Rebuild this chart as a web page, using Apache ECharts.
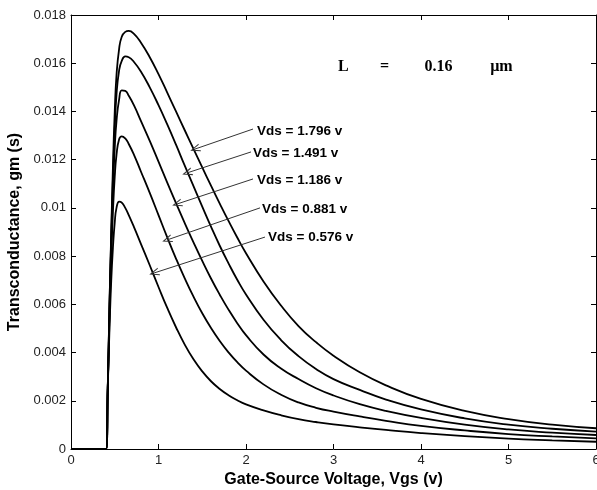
<!DOCTYPE html>
<html><head><meta charset="utf-8">
<script src="https://cdn.jsdelivr.net/npm/echarts@6/dist/echarts.min.js"></script>
<style>html,body{margin:0;padding:0;background:#fff;overflow:hidden;width:100%;height:100%}#c{width:100vw;height:100vh}</style>
</head><body><div id="c"></div>
<script>
// Gate-source voltage grid (V)
var vgs = [0, 0.40, 0.42, 0.44, 0.46, 0.48, 0.50, 0.52, 0.55, 0.58, 0.62, 0.66, 0.72, 0.80, 0.90, 1.0, 1.1, 1.2, 1.3, 1.4, 1.5, 1.6, 1.7, 1.8, 1.9, 2.0, 2.2, 2.4, 2.6, 2.8, 3.0, 3.3, 3.6, 4.0, 4.5, 5.0, 5.5, 6.0];
// Transconductance gm (S) per Vds
var gm1796 = [0, 0, 0.0025, 0.0060, 0.0090, 0.0118, 0.0140, 0.0155, 0.0166, 0.0171, 0.01730, 0.01734, 0.01722, 0.01685, 0.01625, 0.01555, 0.01478, 0.01400, 0.01322, 0.01245, 0.01168, 0.01092, 0.01018, 0.00946, 0.00877, 0.00812, 0.00695, 0.00595, 0.00510, 0.00443, 0.00387, 0.00318, 0.00264, 0.00208, 0.00158, 0.00124, 0.00101, 0.00086];
var gm1491 = [0, 0, 0.0025, 0.0060, 0.0088, 0.0113, 0.0133, 0.0147, 0.0157, 0.0161, 0.01628, 0.01625, 0.01605, 0.01565, 0.01500, 0.01426, 0.01346, 0.01262, 0.01175, 0.01090, 0.01005, 0.00922, 0.00843, 0.00770, 0.00702, 0.00641, 0.00536, 0.00452, 0.00385, 0.00332, 0.00290, 0.00245, 0.00205, 0.00164, 0.00127, 0.00101, 0.00084, 0.00072];
var gm1186 = [0, 0, 0.0025, 0.0058, 0.0085, 0.0108, 0.0125, 0.0136, 0.0145, 0.01487, 0.01485, 0.01465, 0.01425, 0.01360, 0.01278, 0.01192, 0.01105, 0.01020, 0.00937, 0.00857, 0.00780, 0.00707, 0.00640, 0.00578, 0.00522, 0.00472, 0.00392, 0.00334, 0.00290, 0.00252, 0.00222, 0.00186, 0.00158, 0.00129, 0.00101, 0.00081, 0.00068, 0.00058];
var gm0881 = [0, 0, 0.0025, 0.0055, 0.0080, 0.0099, 0.0113, 0.0122, 0.01285, 0.01297, 0.01288, 0.01265, 0.01220, 0.01150, 0.01062, 0.00970, 0.00878, 0.00790, 0.00708, 0.00632, 0.00563, 0.00502, 0.00448, 0.00401, 0.00360, 0.00325, 0.00268, 0.00225, 0.00193, 0.00171, 0.00155, 0.00135, 0.00117, 0.00096, 0.00077, 0.00062, 0.00052, 0.00044];
var gm0576 = [0, 0, 0.0025, 0.0050, 0.0070, 0.0084, 0.0094, 0.0100, 0.01026, 0.01022, 0.01000, 0.00970, 0.00920, 0.00850, 0.00762, 0.00672, 0.00585, 0.00505, 0.00433, 0.00372, 0.00322, 0.00281, 0.00249, 0.00223, 0.00202, 0.00185, 0.00160, 0.00140, 0.00124, 0.00112, 0.00102, 0.00090, 0.00079, 0.00066, 0.00053, 0.00043, 0.00036, 0.00030];
var seriesNames = ['Vds = 1.796 v', 'Vds = 1.491 v', 'Vds = 1.186 v', 'Vds = 0.881 v', 'Vds = 0.576 v'];
// annotation: label anchor (data coords) and arrow tip (data coords)
var labelX = [2.126, 2.08, 2.126, 2.183, 2.252];
var labelY = [0.01319, 0.01228, 0.01116, 0.00996, 0.00879];
var arrowFromX = [2.08, 2.057, 2.08, 2.16, 2.217];
var arrowFromY = [0.01327, 0.01232, 0.0112, 0.0100, 0.00879];
var arrowToX = [1.417, 1.326, 1.211, 1.097, 0.949];
var arrowToY = [0.01244, 0.01145, 0.01016, 0.00867, 0.0073];
var xTicks = [0, 1, 2, 3, 4, 5, 6];
var yTicks = [0, 0.002, 0.004, 0.006, 0.008, 0.01, 0.012, 0.014, 0.016, 0.018];

var allGm = [gm1796, gm1491, gm1186, gm0881, gm0576];
function pairs(ys){ return vgs.map(function(x,i){ return [x, ys[i]]; }); }

var chart = echarts.init(document.getElementById('c'), null, {renderer:'canvas'});
var font = 'Arial, "Liberation Sans", sans-serif';
var series = allGm.map(function(g, i){
  return {
    type:'line', name: seriesNames[i], data: pairs(g), showSymbol:false,
    smooth:0.5,
    lineStyle:{color:'#000', width:1.8}, silent:true, animation:false,
    markLine: {
      silent:true, animation:false,
      symbol:['none','path://M5,0 L10,10 L8.6,10 L5,2.6 L1.4,10 L0,10 Z'],
      symbolSize:[8,10],
      label:{show:false},
      lineStyle:{color:'#333', width:1, type:'solid'},
      data:[[{coord:[arrowFromX[i], arrowFromY[i]]},{coord:[arrowToX[i], arrowToY[i]]}]]
    },
    markPoint: {
      silent:true, animation:false, symbol:'circle', symbolSize:0,
      label:{show:true, position:'right', distance:0, formatter: seriesNames[i],
        color:'#000', fontFamily:font, fontWeight:'bold', fontSize:13.5},
      data:[{coord:[labelX[i], labelY[i]]}]
    }
  };
});

var axisLabelStyle = {color:'#222', fontFamily:font, fontSize:13};
chart.setOption({
  animation:false,
  backgroundColor:'#fff',
  grid:{left:71, right:1, top:15, bottom:41, containLabel:false, outerBoundsMode:'none'},
  xAxis:[{
    type:'value', min:0, max:6, interval:1,
    axisLine:{show:true, onZero:false, lineStyle:{color:'#000', width:1}},
    axisTick:{show:true, inside:true, length:5, lineStyle:{color:'#000'}},
    axisLabel:{show:true, margin:5, hideOverlap:false, ...axisLabelStyle, formatter:function(v){return String(v);}},
    splitLine:{show:false},
    name:'Gate-Source Voltage, Vgs (v)', nameLocation:'middle', nameGap:21,
    nameTextStyle:{color:'#000', fontFamily:font, fontWeight:'bold', fontSize:16}
  },{
    type:'value', min:0, max:6, interval:1, position:'top',
    axisLine:{show:true, onZero:false, lineStyle:{color:'#000', width:1}},
    axisTick:{show:true, inside:true, length:5, lineStyle:{color:'#000'}},
    axisLabel:{show:false}, splitLine:{show:false}
  }],
  yAxis:[{
    type:'value', min:0, max:0.018, interval:0.002,
    axisLine:{show:true, onZero:false, lineStyle:{color:'#000', width:1}},
    axisTick:{show:true, inside:true, length:5, lineStyle:{color:'#000'}},
    axisLabel:{show:true, margin:5, ...axisLabelStyle, formatter:function(v){return String(parseFloat(v.toFixed(4)));}},
    splitLine:{show:false},
    name:'Transconductance, gm (s)', nameLocation:'middle', nameGap:48,
    nameTextStyle:{color:'#000', fontFamily:font, fontWeight:'bold', fontSize:16}
  },{
    type:'value', min:0, max:0.018, interval:0.002, position:'right',
    axisLine:{show:true, onZero:false, lineStyle:{color:'#000', width:1}},
    axisTick:{show:true, inside:true, length:5, lineStyle:{color:'#000'}},
    axisLabel:{show:false}, splitLine:{show:false}
  }],
  series: series
});

// "L = 0.16 µm" annotation in data coordinates
var lParts = ['L', '=', '0.16', 'µm'];
var lX = [3.05, 3.53, 4.04, 4.79];
var lY = 0.0158;
chart.setOption({
  graphic: lParts.map(function(t, i){
    var p = chart.convertToPixel({xAxisIndex:0, yAxisIndex:0}, [lX[i], lY]);
    return {type:'text', left:p[0], top:p[1]-9, silent:true,
      style:{text:t, fill:'#000', font:'bold 16px "Liberation Serif", "DejaVu Serif", serif'}};
  })
});
</script></body></html>
